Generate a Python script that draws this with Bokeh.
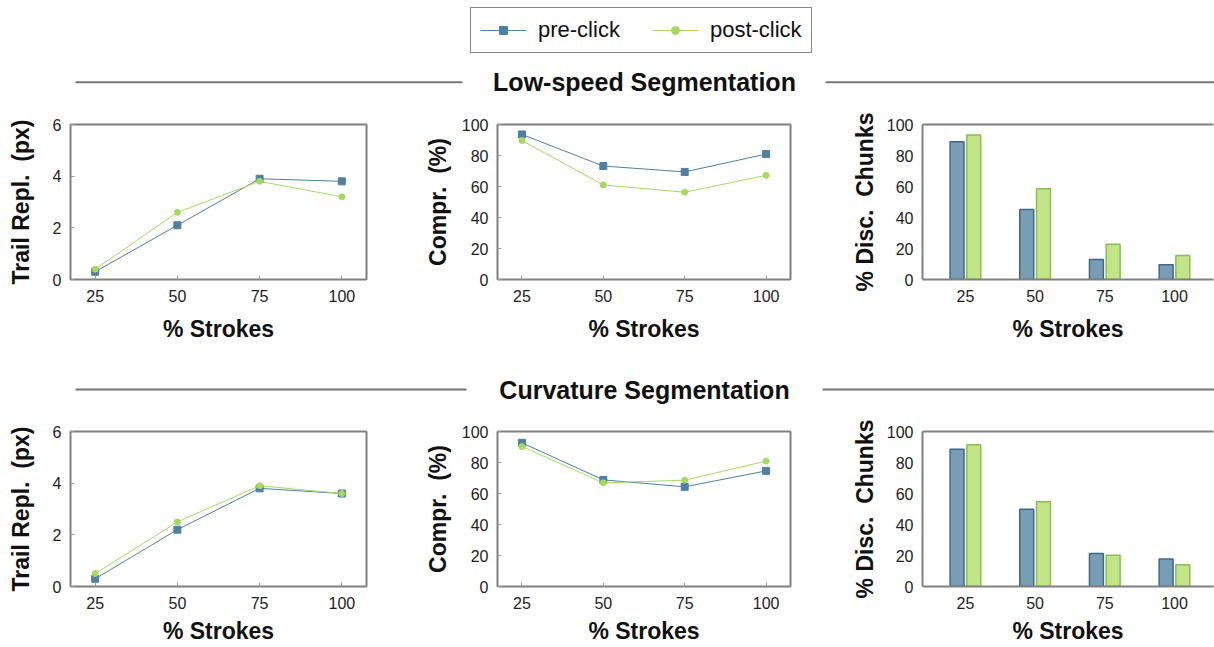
from bokeh.plotting import figure
from bokeh.layouts import column, row
from bokeh.models import Range1d, LinearAxis, FixedTicker, Legend, LegendItem, ColumnDataSource
from bokeh.core.properties import value
from bokeh.transform import dodge
from bokeh.embed import file_html
from bokeh.resources import INLINE

# ---------------- data ----------------
strokes = [25, 50, 75, 100]
series_names = ["pre-click", "post-click"]

low_trail_pre = [0.3, 2.1, 3.9, 3.8]
low_trail_post = [0.4, 2.6, 3.8, 3.2]
low_compr_pre = [93.6, 73.2, 69.4, 80.9]
low_compr_post = [89.7, 61.0, 56.3, 67.2]
low_disc_pre = [88.8, 45.2, 12.9, 9.5]
low_disc_post = [93.3, 58.5, 22.8, 15.5]

curv_trail_pre = [0.3, 2.2, 3.8, 3.6]
curv_trail_post = [0.5, 2.5, 3.9, 3.6]
curv_compr_pre = [92.7, 68.8, 64.3, 74.6]
curv_compr_post = [90.3, 66.9, 68.6, 80.9]
curv_disc_pre = [88.6, 49.9, 21.3, 17.8]
curv_disc_post = [91.4, 54.6, 20.2, 14.0]

trail_ticks = [0, 2, 4, 6]
pct_ticks = [0, 20, 40, 60, 80, 100]

# ---------------- style ----------------
FONT = "Liberation Sans"
BLUE = "#4f7fa1"
BLUE_FILL = "#7a9db6"
BLUE_EDGE = "#3f6886"
GREEN = "#a6d960"
GREEN_FILL = "#c2e58a"
GREEN_EDGE = "#8dbd50"
FRAME = "#808080"
TICK = "#9a9a9a"
NB = "\u00a0"


def style_axis(ax, label_standoff=11, tick_standoff=10):
    ax.major_label_text_font = FONT
    ax.major_label_text_font_size = "16px"
    ax.major_label_text_color = "#222222"
    ax.axis_label_text_font = FONT
    ax.axis_label_text_font_style = "bold"
    ax.axis_label_text_font_size = "23px"
    ax.axis_label_text_color = "#111111"
    ax.major_tick_in = 4
    ax.major_tick_out = 0
    ax.major_tick_line_color = TICK
    ax.minor_tick_line_color = None
    ax.axis_label_standoff = label_standoff
    ax.major_label_standoff = tick_standoff


def base_fig(width, height, left, right, top, bottom, xr, yr):
    f = figure(width=width, height=height, x_range=xr, y_range=yr,
               toolbar_location=None, output_backend="svg",
               min_border_left=left, min_border_right=right,
               min_border_top=top, min_border_bottom=bottom)
    f.grid.visible = False
    f.background_fill_color = "white"
    f.border_fill_color = "white"
    return f


def line_fig(pre, post, ylabel, y_end, yticks, width, height, left, right, top, bottom, ystand, xstand):
    f = base_fig(width, height, left, right, top, bottom, Range1d(17.5, 107.5), Range1d(0, y_end))
    f.outline_line_color = FRAME
    f.outline_line_width = 2
    src = ColumnDataSource(dict(x=strokes, pre=pre, post=post))
    f.line("x", "pre", source=src, line_color=BLUE, line_width=1)
    f.scatter("x", "pre", source=src, marker="square", size=7, fill_color=BLUE, line_color=BLUE)
    f.line("x", "post", source=src, line_color=GREEN, line_width=1)
    f.scatter("x", "post", source=src, marker="circle", size=6, fill_color=GREEN, line_color=GREEN)
    f.xaxis.ticker = FixedTicker(ticks=strokes)
    f.yaxis.ticker = FixedTicker(ticks=yticks)
    f.xaxis.axis_label = "% Strokes"
    f.yaxis.axis_label = ylabel
    f.axis.axis_line_color = None
    style_axis(f.xaxis[0], label_standoff=xstand)
    style_axis(f.yaxis[0], label_standoff=ystand, tick_standoff=9)
    return f


def bar_fig(pre, post, ylabel, width, height, left, right, top, bottom, ystand, xstand):
    f = base_fig(width, height, left, right, top, bottom, Range1d(9.6, 114.0), Range1d(0, 100))
    f.outline_line_color = None
    src = ColumnDataSource(dict(x=strokes, pre=pre, post=post))
    f.vbar(x=dodge("x", -3.0), top="pre", width=5, source=src,
           fill_color=BLUE_FILL, line_color=BLUE_EDGE, line_width=1.5)
    f.vbar(x=dodge("x", 3.0), top="post", width=5, source=src,
           fill_color=GREEN_FILL, line_color=GREEN_EDGE, line_width=1.5)
    f.xaxis.ticker = FixedTicker(ticks=strokes)
    f.yaxis.ticker = FixedTicker(ticks=pct_ticks)
    f.xaxis.axis_label = "% Strokes"
    f.yaxis.axis_label = ylabel
    f.axis.axis_line_color = FRAME
    f.axis.axis_line_width = 2
    style_axis(f.xaxis[0], label_standoff=xstand)
    style_axis(f.yaxis[0], label_standoff=ystand, tick_standoff=9)
    f.xaxis.major_tick_line_color = None
    f.yaxis.major_tick_line_color = None
    ta = LinearAxis(ticker=FixedTicker(ticks=[]))
    ta.axis_line_color = FRAME
    ta.axis_line_width = 2
    ta.major_tick_line_color = None
    ta.minor_tick_line_color = None
    ta.major_label_standoff = 0
    ta.major_tick_out = 0
    ta.major_tick_in = 0
    f.add_layout(ta, "above")
    return f


def header(height, text, y_mid, left_end, right_start):
    h = figure(width=1214, height=height, x_range=Range1d(0, 1214), y_range=Range1d(0, height),
               x_axis_location=None, y_axis_location=None, toolbar_location=None,
               output_backend="svg", min_border=0)
    h.grid.visible = False
    h.outline_line_color = None
    h.segment(x0=[75, right_start], y0=[y_mid, y_mid], x1=[left_end, 1214], y1=[y_mid, y_mid],
              line_color="#777777", line_width=2)
    h.text(x=[644], y=[y_mid], text=[text], text_align="center", text_baseline="middle",
           text_font=value(FONT), text_font_style="bold", text_font_size="25px", text_color="#111111")
    return h


# ---------------- legend ----------------
lg = figure(width=1214, height=60, x_range=Range1d(0, 1), y_range=Range1d(0, 1),
            x_axis_location=None, y_axis_location=None, toolbar_location=None,
            output_backend="svg", min_border=0)
lg.grid.visible = False
lg.outline_line_color = None
# legend-only renderers: their single point lies outside the visible ranges
hidden = ColumnDataSource(dict(x=[5], y=[5]))
l1 = lg.line("x", "y", source=hidden, line_color=BLUE, line_width=1)
m1 = lg.scatter("x", "y", source=hidden, marker="square", size=6, fill_color=BLUE, line_color=BLUE)
l2 = lg.line("x", "y", source=hidden, line_color=GREEN, line_width=1)
m2 = lg.scatter("x", "y", source=hidden, marker="circle", size=6, fill_color=GREEN, line_color=GREEN)
legend = Legend(items=[LegendItem(label=series_names[0], renderers=[l1, m1]),
                       LegendItem(label=series_names[1], renderers=[l2, m2])],
                orientation="horizontal", location=(470, 7), margin=0, padding=9,
                spacing=32, glyph_width=46, glyph_height=20, label_height=20,
                label_standoff=12, border_line_color="#111111", border_line_width=1.5,
                label_text_font=FONT, label_text_font_size="22px", label_text_color="#111111")
lg.add_layout(legend, "center")

# ---------------- panels ----------------
trail_label = "Trail Repl." + NB + NB + "(px)"
compr_label = "Compr." + NB + NB + "(%)"
disc_label = "%" + NB + "Disc." + NB + NB + "Chunks"

h1 = header(40, "Low-speed Segmentation", 18.3, 462, 825)
f1 = line_fig(low_trail_pre, low_trail_post, trail_label, 6, trail_ticks, 420, 255, 70, 54, 24, 76, 16, 11)
f2 = line_fig(low_compr_pre, low_compr_post, compr_label, 100, pct_ticks, 420, 255, 77, 50, 24, 76, 8, 11)
f3 = bar_fig(low_disc_pre, low_disc_post, disc_label, 374, 255, 82, 1, 24, 76, 6, 11)

h2 = header(51, "Curvature Segmentation", 17, 466, 822)
f4 = line_fig(curv_trail_pre, curv_trail_post, trail_label, 6, trail_ticks, 420, 241, 70, 54, 25, 61, 16, 6)
f5 = line_fig(curv_compr_pre, curv_compr_post, compr_label, 100, pct_ticks, 420, 241, 77, 50, 25, 61, 8, 6)
f6 = bar_fig(curv_disc_pre, curv_disc_post, disc_label, 374, 241, 82, 1, 25, 61, 6, 6)

p = column(lg, h1, row(f1, f2, f3, spacing=0), h2, row(f4, f5, f6, spacing=0), spacing=0)

open("out.html", "w").write(file_html(p, INLINE))
